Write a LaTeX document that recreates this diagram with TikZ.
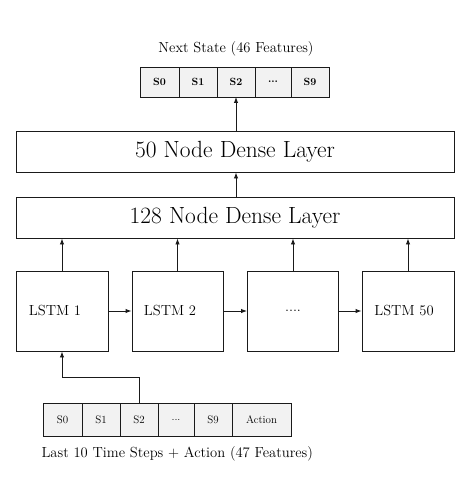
\documentclass[tikz,border=0pt]{standalone}
\usetikzlibrary{arrows.meta}
\definecolor{cellfill}{HTML}{F2F2F2}
\definecolor{linec}{HTML}{1A1A1A}
\newcommand{\mydots}{...}
\begin{document}
\begin{tikzpicture}[x=1bp,y=-1bp,
  box/.style={draw=linec,line width=0.95bp,inner sep=0pt},
  cell/.style={draw=linec,line width=0.95bp,fill=cellfill,inner sep=0pt},
  conn/.style={draw=linec,line width=0.95bp,-{Latex[length=6bp,width=4.5bp]}},
  big/.style={font=\fontsize{23.5}{28}\selectfont},
  mid/.style={font=\fontsize{14.5}{17}\selectfont,scale=1.01},
  small/.style={font=\fontsize{11}{13}\selectfont}]
\useasboundingbox (0,0) rectangle (469,494);
% top label
\node[mid] (toplab) at (236,49) {Next State (46 Features)};
% top cells
\foreach \n/\a/\b/\t in {t0/140/179/S0,t1/179/217/S1,t2/217/255/S2,t3/255/291/\mydots,t4/291/329/S9}{
  \path[cell] (\a,67) rectangle (\b,97);
  \node[font=\fontsize{10.5}{12}\selectfont\bfseries] (\n) at ({(\a+\b)/2},82) {\t};
}
\coordinate (t2b) at (236,97);
% dense layers
\node[box,big,minimum width=438bp,minimum height=41bp] (d50) at (235,151.5) {50 Node Dense Layer};
\node[box,big,minimum width=438bp,minimum height=41bp] (d128) at (235,217.5) {128 Node Dense Layer};
% LSTM boxes
\node[box,minimum width=92bp,minimum height=80bp] (l1) at (62,311) {};
\node[box,minimum width=91bp,minimum height=80bp] (l2) at (177.5,311) {};
\node[box,minimum width=91bp,minimum height=80bp] (l3) at (293,311) {};
\node[box,minimum width=92bp,minimum height=80bp] (l4) at (408,311) {};
\node[mid] (l1t) at (55,311) {LSTM 1};
\node[mid] (l2t) at (170,311) {LSTM 2};
\node[mid] (l3t) at (293,311) {....};
\node[mid] (l4t) at (404,311) {LSTM 50};
% bottom cells
\foreach \n/\a/\b/\t in {b0/43/82/S0,b1/82/120/S1,b2/120/158/S2,b3/158/194/\mydots,b4/194/232/S9,b5/232/291/Action}{
  \path[cell] (\a,403) rectangle (\b,436);
  \node[small] (\n) at ({(\a+\b)/2},419.5) {\t};
}
\coordinate (b2t) at (139,403);
\node[mid,anchor=west] (botlab) at (38,454) {Last 10 Time Steps + Action (47 Features)};
% connectors
\draw[conn] (d50.north -| t2b) -- (t2b);
\draw[conn] (d128.north -| t2b) -- (d50.south -| t2b);
\foreach \l in {l1,l2,l3,l4}{
  \draw[conn] (\l.north) -- (\l.north |- d128.south);
}
\draw[conn] (l1.east) -- (l2.west);
\draw[conn] (l2.east) -- (l3.west);
\draw[conn] (l3.east) -- (l4.west);
\draw[conn] (b2t) -- (139,377) -| (l1.south);
\end{tikzpicture}
\end{document}
